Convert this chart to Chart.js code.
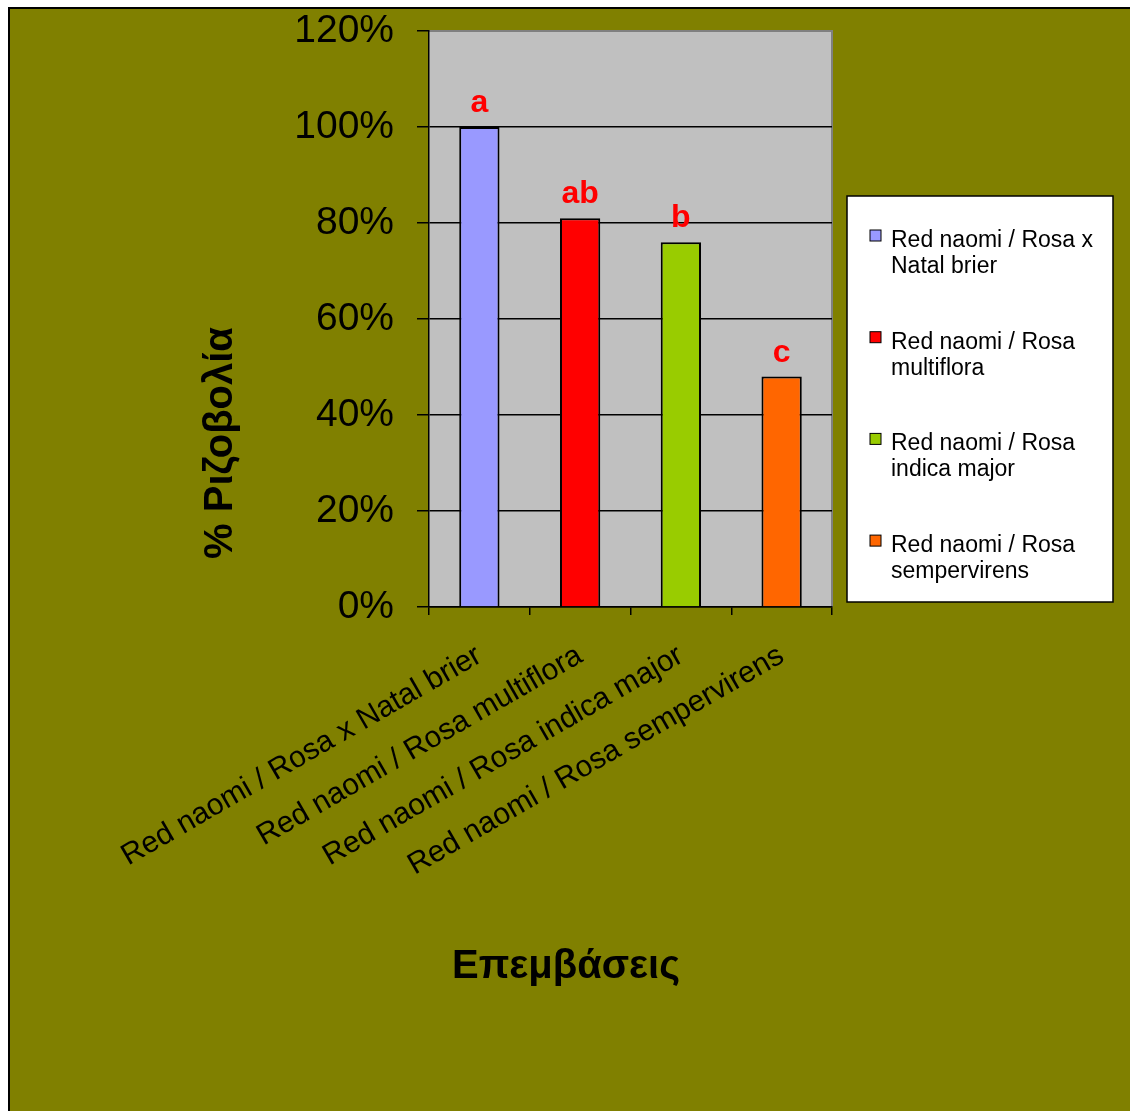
<!DOCTYPE html>
<html>
<head>
<meta charset="utf-8">
<script src="https://cdn.jsdelivr.net/npm/chart.js@4.4.1/dist/chart.umd.min.js"></script>
<style>
  html, body { margin: 0; padding: 0; background: #ffffff; }
  canvas { display: block; }
</style>
</head>
<body>
<canvas id="rootingChart" width="1130" height="1111"></canvas>
<script>
// Chart data
const categories = [
  'Red naomi / Rosa x Natal brier',
  'Red naomi / Rosa multiflora',
  'Red naomi / Rosa indica major',
  'Red naomi / Rosa sempervirens'
];
const rootingValues = [1.00, 0.81, 0.76, 0.48];
const significanceLetters = ['a', 'ab', 'b', 'c'];
const barColors = ['#9999FF', '#FF0000', '#99CC00', '#FF6600'];
const yAxisTitle = '% Ριζοβολία';
const xAxisTitle = 'Επεμβάσεις';

const FONT = "'Liberation Sans', Arial, sans-serif";
const OLIVE = '#808000';
const PLOT_BG = '#C0C0C0';

// background, frame and plot area
const backgroundPlugin = {
  id: 'backgroundPlugin',
  beforeDraw(chart) {
    const { ctx, width, height, chartArea } = chart;
    ctx.save();
    ctx.fillStyle = '#ffffff';
    ctx.fillRect(0, 0, width, height);
    ctx.fillStyle = OLIVE;
    ctx.fillRect(8, 7, width - 8, height - 7);
    ctx.fillStyle = '#000000';
    ctx.fillRect(8, 7, 2, height - 7);
    ctx.fillRect(8, 7, width - 8, 2);

    ctx.fillStyle = PLOT_BG;
    ctx.fillRect(chartArea.left, chartArea.top, chartArea.right - chartArea.left, chartArea.bottom - chartArea.top);
    ctx.strokeStyle = '#808080';
    ctx.lineWidth = 2;
    ctx.beginPath();
    ctx.moveTo(chartArea.left, chartArea.top);
    ctx.lineTo(chartArea.right, chartArea.top);
    ctx.lineTo(chartArea.right, chartArea.bottom);
    ctx.stroke();
    ctx.restore();
  }
};

// significance letters above the bars
const letterPlugin = {
  id: 'letterPlugin',
  afterDatasetsDraw(chart) {
    const { ctx } = chart;
    const meta = chart.getDatasetMeta(0);
    ctx.save();
    ctx.fillStyle = '#FF0000';
    ctx.font = 'bold 32px ' + FONT;
    ctx.textAlign = 'center';
    ctx.textBaseline = 'alphabetic';
    meta.data.forEach((bar, i) => {
      ctx.fillText(significanceLetters[i], bar.x, bar.y - 15);
    });
    ctx.restore();
  }
};

// axis titles
const axisTitlePlugin = {
  id: 'axisTitlePlugin',
  afterDraw(chart) {
    const { ctx } = chart;
    ctx.save();
    ctx.fillStyle = '#000000';
    ctx.font = 'bold 40px ' + FONT;
    ctx.textAlign = 'center';
    ctx.textBaseline = 'middle';
    ctx.fillText(xAxisTitle, 566, 967);
    ctx.translate(221, 443);
    ctx.rotate(-Math.PI / 2);
    ctx.fillText(yAxisTitle, 0, 0);
    ctx.restore();
  }
};

// boxed legend with wrapped labels
const boxLegendPlugin = {
  id: 'boxLegendPlugin',
  afterDraw(chart) {
    const { ctx } = chart;
    const box = { left: 847, top: 196, right: 1113, bottom: 602 };
    ctx.save();
    ctx.fillStyle = '#ffffff';
    ctx.fillRect(box.left, box.top, box.right - box.left, box.bottom - box.top);
    ctx.strokeStyle = '#000000';
    ctx.lineWidth = 1.5;
    ctx.strokeRect(box.left, box.top, box.right - box.left, box.bottom - box.top);

    ctx.font = '23px ' + FONT;
    ctx.textAlign = 'left';
    ctx.textBaseline = 'alphabetic';
    const maxWidth = 212;
    const colors = chart.data.datasets[0].backgroundColor;
    chart.data.labels.forEach((label, i) => {
      const baseY = 247 + i * 101.7;
      ctx.fillStyle = colors[i];
      ctx.fillRect(870, baseY - 17, 11, 11);
      ctx.strokeStyle = '#000000';
      ctx.lineWidth = 1;
      ctx.strokeRect(870, baseY - 17, 11, 11);

      // word wrap
      const words = label.split(' ');
      const lines = [];
      let line = '';
      words.forEach(w => {
        const test = line ? line + ' ' + w : w;
        if (ctx.measureText(test).width > maxWidth && line) {
          lines.push(line);
          line = w;
        } else {
          line = test;
        }
      });
      lines.push(line);
      ctx.fillStyle = '#000000';
      lines.forEach((l, j) => ctx.fillText(l, 891, baseY + j * 26));
    });
    ctx.restore();
  }
};

const canvas = document.getElementById('rootingChart');
new Chart(canvas.getContext('2d'), {
  type: 'bar',
  data: {
    labels: categories,
    datasets: [{
      data: rootingValues,
      backgroundColor: barColors,
      borderColor: '#000000',
      borderWidth: 2,
      barPercentage: 0.4,
      categoryPercentage: 1.0
    }]
  },
  options: {
    responsive: false,
    animation: false,
    devicePixelRatio: 1,
    layout: {
      padding: { top: 31, right: 298, left: 0, bottom: 0 }
    },
    plugins: {
      legend: { display: false },
      title: { display: false },
      tooltip: { enabled: false }
    },
    scales: {
      x: {
        afterFit(scale) { scale.height = 504; },
        grid: {
          display: true,
          drawOnChartArea: false,
          color: '#000000',
          lineWidth: 1.5,
          tickLength: 8,
          offset: true
        },
        border: { display: true, color: '#000000', width: 1.5 },
        ticks: {
          color: '#000000',
          font: { family: FONT, size: 30 },
          minRotation: 30,
          maxRotation: 30,
          autoSkip: false,
          padding: 23
        }
      },
      y: {
        min: 0,
        max: 1.2,
        afterFit(scale) {
          scale.width = 429;
          // keep the plot top at the layout padding
          scale.paddingTop = 0;
          scale.paddingBottom = 0;
        },
        grid: {
          color: (c) => (c.tick && c.tick.value >= 1.2 ? '#808080' : '#000000'),
          tickColor: '#000000',
          lineWidth: 1.5,
          tickLength: 12
        },
        border: { display: true, color: '#000000', width: 1.5 },
        ticks: {
          stepSize: 0.2,
          color: '#000000',
          font: { family: FONT, size: 39 },
          padding: 23,
          callback: (v) => Math.round(v * 100) + '%'
        }
      }
    }
  },
  plugins: [backgroundPlugin, letterPlugin, axisTitlePlugin, boxLegendPlugin]
});
</script>
</body>
</html>
